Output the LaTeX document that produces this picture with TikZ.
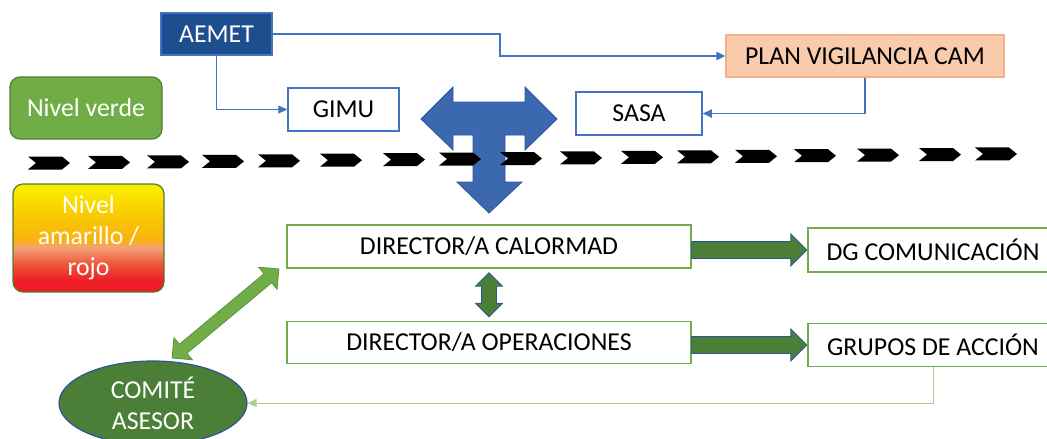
\documentclass[tikz,border=0pt]{standalone}
\usepackage{fontspec}
\setmainfont{Carlito}
\usetikzlibrary{positioning, arrows.meta, shapes.geometric, shapes.arrows, calc}
\definecolor{aemetblue}{HTML}{1D4E8D}
\definecolor{lineblue}{HTML}{4472C4}
\definecolor{edgeblue}{HTML}{2F5597}
\definecolor{tblue}{HTML}{3C68B0}
\definecolor{peach}{HTML}{F8CBAD}
\definecolor{peachline}{HTML}{F4B183}
\definecolor{leafgreen}{HTML}{70AD47}
\definecolor{darkleaf}{HTML}{507E32}
\definecolor{forest}{HTML}{4B7F37}
\definecolor{palegreen}{HTML}{A9D18E}
\definecolor{alyellow}{HTML}{FAEA00}
\definecolor{algold}{HTML}{F9D000}
\definecolor{alorange}{HTML}{F9B20E}
\definecolor{alsalmon}{HTML}{F4A07A}
\definecolor{alredorange}{HTML}{EF5A3A}
\definecolor{alred}{HTML}{EE1C25}
\pgfdeclareverticalshading{alerta}{100bp}{color(0bp)=(alred); color(30bp)=(alred); color(38.5bp)=(alredorange); color(45.5bp)=(alsalmon); color(49bp)=(alorange); color(63bp)=(algold); color(72bp)=(alyellow); color(100bp)=(alyellow)}
\tikzset{
every node/.style={font=\fontsize{25.8}{31}\selectfont, inner sep=0pt, align=center}, % text as in the slide
bluebox/.style={draw=lineblue, fill=white, line width=1.5pt, minimum height=43pt},
greenbox/.style={draw=leafgreen, fill=white, line width=1.5pt, minimum height=43pt},
level/.style={draw=darkleaf, rounded corners=10pt, line width=1.2pt, text=white},
blueline/.style={draw=lineblue, line width=1.8pt, -{Triangle[length=9pt,width=8pt]}},
fatarrow/.style={draw=edgeblue, fill=forest, line width=0.8pt, inner sep=0pt}, % block arrows
}
\begin{document}
\begin{tikzpicture}[x=1pt, y=-1pt]
\useasboundingbox (0,0) rectangle (1047,439);

% level boxes
\node[level, fill=leafgreen, minimum width=152pt, minimum height=62pt] (verde) at (86,108) {Nivel verde};
\node[level, shading=alerta, minimum width=151pt, minimum height=108pt] (amarillo) at (88.5,238) {Nivel\\amarillo /\\rojo};

% green level
\node[draw=lineblue, fill=aemetblue, line width=1.5pt, text=white, minimum width=111pt, minimum height=42pt] (aemet) at (216.5,34) {AEMET};
\node[draw=peachline, fill=peach, line width=1.2pt, minimum width=278pt, minimum height=42pt] (plan) at (865,56) {PLAN VIGILANCIA CAM};
\node[bluebox, minimum width=111pt] (gimu) at (343.5,109.5) {GIMU};
\node[bluebox, minimum width=126pt] (sasa) at (639,113.5) {SASA};

\draw[blueline] (aemet.east) -- ++(227,0) |- (plan.west);
\draw[blueline, line width=1pt] (aemet.south) |- (gimu.west);
\draw[blueline] (plan.south) |- (sasa.east);

% big T arrow
\draw[draw=edgeblue, fill=tblue, line width=0.8pt] (421,119) -- (453,87) -- (453,102) -- (525,102) -- (525,87) -- (557,119)
 -- (525,150) -- (525,135) -- (505,135) -- (505,182) -- (522,182) -- (489,213) -- (457,182) -- (473,182)
 -- (473,135) -- (453,135) -- (453,150) -- cycle;

% dividing line of chevrons
\foreach \cx in {28,88,147,202,258,320,383,439,500,560,621,677,735,794,857,919,975}{
 \pgfmathsetmacro\cy{163-0.0095*(\cx-28)}
 \fill[black] (\cx,\cy-6.5) -- ++(34,0) -- ++(8,6.5) -- ++(-8,6.5) -- ++(-34,0) -- ++(8,-6.5) -- cycle;
}

% yellow / red level
\node[greenbox, minimum width=404pt] (cal) at (489,246.5) {DIRECTOR/A CALORMAD};
\node[greenbox, minimum width=404pt, minimum height=42pt, below=52pt of cal] (ope) {DIRECTOR/A OPERACIONES};
\node[greenbox, minimum width=250pt, minimum height=44pt] (dg) at (933,250) {DG COMUNICACIÓN};
\node[greenbox, minimum width=250pt, below=50pt of dg] (grupos) {GRUPOS DE ACCIÓN};
\node[ellipse, draw=edgeblue, fill=forest, line width=1.2pt, text=white, minimum width=188pt, minimum height=84pt] (comite) at (153,403) {COMITÉ\\ASESOR};

\node[fatarrow, single arrow, anchor=tip, minimum height=115pt, single arrow head extend=7.5pt] at (dg.west) {\rule{0pt}{16pt}};
\node[fatarrow, single arrow, anchor=tip, minimum height=115pt, single arrow head extend=7.5pt] at (grupos.west) {\rule{0pt}{16pt}};
\node[fatarrow, double arrow, rotate=90, minimum height=44pt, double arrow head extend=6pt] at ($(cal.south)!0.5!(ope.north)$) {\rule{0pt}{14pt}};
\node[double arrow, draw=leafgreen!85!black, fill=leafgreen, line width=0.8pt, inner sep=0pt, rotate=39.8, minimum height=139pt, double arrow head extend=8.5pt] at (225.5,313.5) {\rule{0pt}{11pt}};

\draw[palegreen, line width=1pt, -{Triangle[length=9pt,width=8pt]}] (grupos.south) |- (comite.east);

\end{tikzpicture}
\end{document}
